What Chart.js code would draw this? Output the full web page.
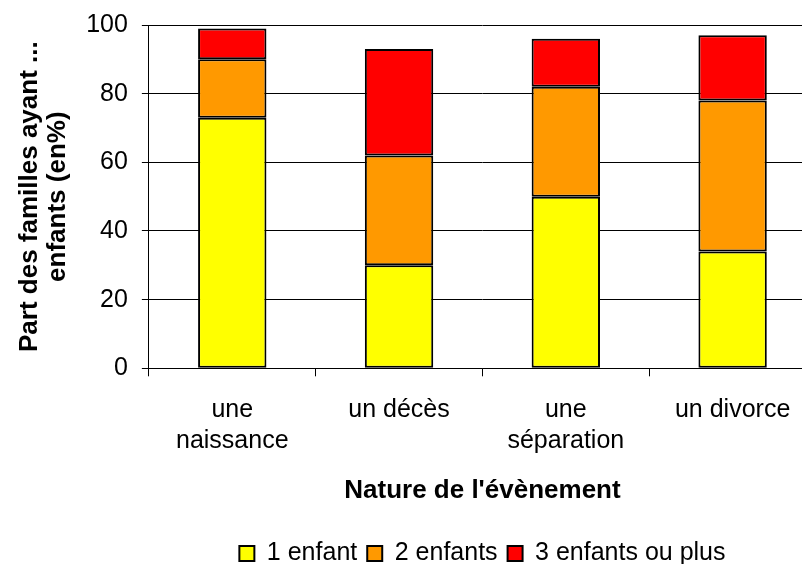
<!DOCTYPE html>
<html>
<head>
<meta charset="utf-8">
<script src="https://cdn.jsdelivr.net/npm/chart.js@4"></script>
<style>
  html, body { margin: 0; padding: 0; background: #fff; overflow: hidden; }
  #wrap { width: 802px; height: 564px; overflow: hidden; }
  #chart { display: block; margin-top: -4px; }
</style>
</head>
<body>
<div id="wrap"><canvas id="chart" width="818" height="580"></canvas></div>
<script>
const categories = [["une", "naissance"], "un décès", ["une", "séparation"], "un divorce"];
const oneChild = [73, 30, 50, 34];
const twoChildren = [17, 32, 32, 44];
const threeOrMore = [9, 31, 14, 19];
const yTicks = [0, 20, 40, 60, 80, 100];

const font = "'Liberation Sans', Arial, sans-serif";

function bars(label, data, color) {
    return {
        label: label,
        data: data,
        backgroundColor: color,
        borderColor: "#000",
        borderWidth: 2,
        borderSkipped: false,
        categoryPercentage: 1,
        barPercentage: 0.41
    };
}

const ctx = document.getElementById("chart").getContext("2d");
new Chart(ctx, {
    type: "bar",
    data: {
        labels: categories,
        datasets: [
            bars("1 enfant", oneChild, "#ffff00"),
            bars("2 enfants", twoChildren, "#ff9900"),
            bars("3 enfants ou plus", threeOrMore, "#ff0000")
        ]
    },
    options: {
        responsive: false,
        animation: false,
        layout: { padding: { top: 8, left: 16, right: 2, bottom: 0 } },
        scales: {
            x: {
                stacked: true,
                grid: { display: true, drawOnChartArea: false, color: "#000", tickLength: 8, offset: true },
                border: { color: "#000", width: 1 },
                ticks: { color: "#000", font: { family: font, size: 25, lineHeight: 1.25 }, padding: 18 },
                title: {
                    display: true,
                    text: "Nature de l'évènement",
                    color: "#000",
                    font: { family: font, size: 26, weight: "bold", lineHeight: 1.2 },
                    padding: { top: 0, bottom: 25 }
                }
            },
            y: {
                stacked: true,
                min: 0,
                max: 100,
                afterBuildTicks: axis => { axis.ticks = yTicks.map(v => ({ value: v })); },
                grid: { color: "#000", tickLength: 7 },
                border: { color: "#000", width: 1 },
                ticks: { color: "#000", font: { family: font, size: 25 }, padding: 14 },
                title: {
                    display: true,
                    text: ["Part des familles ayant ...", "enfants (en%)"],
                    color: "#000",
                    font: { family: font, size: 26, weight: "bold", lineHeight: 1.08 },
                    padding: { top: 0, bottom: 0 }
                }
            }
        },
        plugins: {
            legend: {
                position: "bottom",
                fullSize: false,
                labels: {
                    color: "#000",
                    font: { family: font, size: 25 },
                    boxWidth: 15,
                    boxHeight: 15,
                    padding: 10
                }
            },
            tooltip: { enabled: false }
        }
    }
});
</script>
</body>
</html>
